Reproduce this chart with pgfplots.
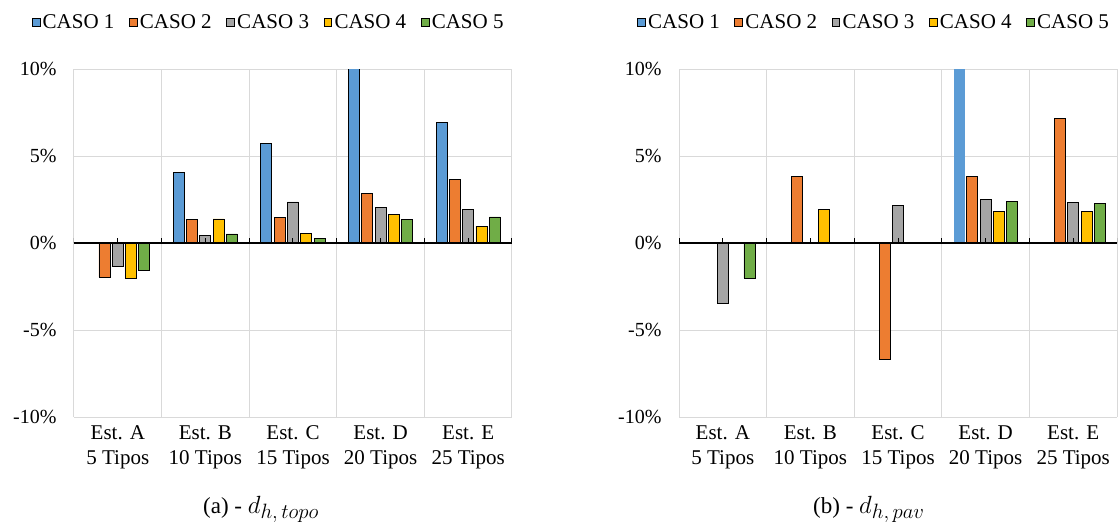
\documentclass[border=0pt]{standalone}
\usepackage{pgfplots}
\pgfplotsset{compat=1.18}
\usepackage{pgfplotstable}
\usepackage{fontspec}
\setmainfont{Liberation Serif}
\definecolor{cA}{HTML}{5B9BD5}
\definecolor{cB}{HTML}{ED7D31}
\definecolor{cC}{HTML}{A5A5A5}
\definecolor{cD}{HTML}{FFC000}
\definecolor{cE}{HTML}{70AD47}
\definecolor{gridgray}{HTML}{D9D9D9}

\pgfplotstableread{
x c1 c2 c3 c4 c5
0 nan -1.95 -1.33 -2.05 -1.60
1 4.05 1.34 0.42 1.38 0.52
2 5.74 1.46 2.36 0.56 0.25
3 10.8 2.84 2.02 1.63 1.36
4 6.95 3.63 1.92 0.96 1.50
}\topo

\pgfplotstableread{
x c1 c2 c3 c4 c5
0 nan nan -3.48 nan -2.02
1 nan 3.82 nan 1.94 nan
2 nan -6.70 2.15 nan nan
3 10.8 3.82 2.50 1.80 2.40
4 nan 7.16 2.32 1.80 2.26
}\pav

\pgfplotsset{
  mychart/.style={
    scale only axis, width=438pt, height=348pt,
    ybar=2.3pt, bar width=11pt,
    xmin=-0.5, xmax=4.5, ymin=-10, ymax=10,
    xtick={0,1,2,3,4},
    xticklabels={{Est. A\\5 Tipos},{Est. B\\10 Tipos},{Est. C\\15 Tipos},{Est. D\\20 Tipos},{Est. E\\25 Tipos}},
    minor xtick={-0.5,0.5,1.5,2.5,3.5,4.5},
    xminorgrids, ymajorgrids,
    ytick={-10,-5,0,5,10},
    yticklabels={-10\%,-5\%,0\%,5\%,10\%},
    axis line style={draw=none},
    major tick length=0pt, minor tick length=0pt,
    major grid style={draw=gridgray, line width=1pt},
    minor grid style={draw=gridgray, line width=1pt},
    yticklabel style={font=\fontsize{20}{24}\selectfont, xshift=-14pt},
    xticklabel style={font=\fontsize{21}{25}\selectfont, align=center, yshift=-5pt},
    legend columns=-1,
    legend style={draw=none, fill=none, anchor=west, inner sep=0pt,
      font=\fontsize{21}{24}\selectfont,
      nodes={inner sep=2.5pt},
      /tikz/every even column/.append style={column sep=12pt}},
  },
  bx/.style={legend image code/.code={\draw[##1, line width=0.7pt] (0pt,-3.9pt) rectangle (7.8pt,3.9pt);}},
}

\begin{document}
\begin{tikzpicture}[x=1pt,y=1pt]
\useasboundingbox (0,0) rectangle (1120,523);

% ---------- left chart ----------
\begin{axis}[mychart, at={(74pt,106pt)}, anchor=south west,
  legend style={at={(-0.097,1.135)}}]
\addplot[fill=cA, draw=black, line width=0.8pt, bx] table[x=x,y=c1] {\topo};
\addplot[fill=cB, draw=black, line width=0.8pt, bx] table[x=x,y=c2] {\topo};
\addplot[fill=cC, draw=black, line width=0.8pt, bx] table[x=x,y=c3] {\topo};
\addplot[fill=cD, draw=black, line width=0.8pt, bx] table[x=x,y=c4] {\topo};
\addplot[fill=cE, draw=black, line width=0.8pt, bx] table[x=x,y=c5] {\topo};
\legend{CASO 1,CASO 2,CASO 3,CASO 4,CASO 5}
\draw[black, line width=1.3pt] (axis cs:-0.5,0) -- (axis cs:4.5,0);
\pgfplotsinvokeforeach{-0.5,0,0.5,1,1.5,2,2.5,3,3.5,4,4.5}{
  \draw[black, line width=1pt] (axis cs:#1,0) -- ++(0pt,5pt);}
\end{axis}

% ---------- right chart ----------
\begin{axis}[mychart, at={(679pt,106pt)}, anchor=south west,
  legend style={at={(-0.096,1.135)}}]
\addplot[fill=cA, draw=none, bx] table[x=x,y=c1] {\pav};
\addplot[fill=cB, draw=black, line width=0.8pt, bx] table[x=x,y=c2] {\pav};
\addplot[fill=cC, draw=black, line width=0.8pt, bx] table[x=x,y=c3] {\pav};
\addplot[fill=cD, draw=black, line width=0.8pt, bx] table[x=x,y=c4] {\pav};
\addplot[fill=cE, draw=black, line width=0.8pt, bx] table[x=x,y=c5] {\pav};
\legend{CASO 1,CASO 2,CASO 3,CASO 4,CASO 5}
\draw[black, line width=1.3pt] (axis cs:-0.5,0) -- (axis cs:4.5,0);
\pgfplotsinvokeforeach{-0.5,0,0.5,1,1.5,2,2.5,3,3.5,4,4.5}{
  \draw[black, line width=1pt] (axis cs:#1,0) -- ++(0pt,5pt);}
\end{axis}

\node[font=\fontsize{23}{26}\selectfont, anchor=base west, inner sep=0pt] at (203,10)
  {(a) - {\fontsize{26}{28}\selectfont$d$}\raisebox{-5pt}{\fontsize{21}{24}\selectfont$h{,}\,topo$}};
\node[font=\fontsize{23}{26}\selectfont, anchor=base west, inner sep=0pt] at (813,10)
  {(b) - {\fontsize{26}{28}\selectfont$d$}\raisebox{-5pt}{\fontsize{21}{24}\selectfont$h{,}\,pav$}};
\end{tikzpicture}
\end{document}
